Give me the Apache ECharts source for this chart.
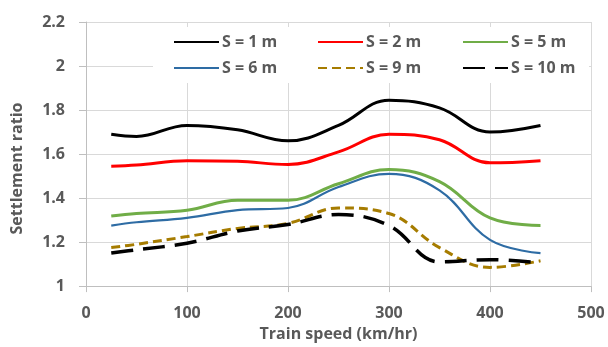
<!DOCTYPE html>
<html>
<head>
<meta charset="utf-8">
<script src="https://cdn.jsdelivr.net/npm/echarts@6/dist/echarts.min.js"></script>
<style>
  html, body { margin: 0; padding: 0; background: #fff; }
  #chart { width: 608px; height: 347px; }
</style>
</head>
<body>
<div id="chart"></div>
<script>
// Train speed (km/hr) at which settlement ratio was evaluated
const speeds = [25, 50, 100, 150, 200, 250, 300, 350, 400, 450];

// Settlement ratio for each spacing S
const s1  = [1.69, 1.68, 1.73, 1.71, 1.66, 1.73, 1.845, 1.81, 1.70, 1.73];
const s2  = [1.545, 1.55, 1.57, 1.567, 1.553, 1.61, 1.69, 1.665, 1.56, 1.57];
const s5  = [1.318, 1.33, 1.345, 1.39, 1.39, 1.465, 1.53, 1.475, 1.31, 1.275];
const s6  = [1.275, 1.29, 1.31, 1.345, 1.355, 1.45, 1.51, 1.435, 1.21, 1.15];
const s9  = [1.175, 1.19, 1.225, 1.262, 1.285, 1.355, 1.33, 1.175, 1.085, 1.115];
const s10 = [1.15, 1.165, 1.195, 1.25, 1.28, 1.325, 1.275, 1.11, 1.12, 1.105];

const seriesNames = ['S = 1 m', 'S = 2 m', 'S = 5 m', 'S = 6 m', 'S = 9 m', 'S = 10 m'];

const xTicks = { min: 0, max: 500, step: 100 };
const yTicks = { min: 1, max: 2.2, step: 0.2 };

const textGrey = '#595959';
const fontFamily = '"Open Sans", Lato, sans-serif';
const boldText = { color: textGrey, fontWeight: 'bold', fontSize: 16, fontFamily: fontFamily };

function pairs(values) {
  return speeds.map((s, i) => [s, values[i]]);
}

function lineSeries(name, values, color, width, dash) {
  return {
    name: name,
    type: 'line',
    data: pairs(values),
    smooth: 0.4,
    symbol: 'none',
    z: 3,
    lineStyle: { color: color, width: width, type: dash || 'solid', cap: 'butt' },
    itemStyle: { color: color }
  };
}

// one legend column holds two stacked entries
function legendColumn(left, names) {
  return {
    orient: 'vertical',
    left: left,
    top: 29,
    data: names,
    itemWidth: 45,
    itemHeight: 14,
    itemGap: 10,
    itemStyle: { opacity: 0 },
    textStyle: Object.assign({ padding: [0, 0, 0, -2] }, boldText),
    selectedMode: false
  };
}

const chart = echarts.init(document.getElementById('chart'), null, { renderer: 'canvas' });

chart.setOption({
  animation: false,
  backgroundColor: '#fff',
  grid: { left: 86, right: 17, top: 22, bottom: 60, containLabel: false },
  graphic: [{
    type: 'rect',
    z: 1,
    shape: { x: 153, y: 27, width: 436, height: 56 },
    style: { fill: '#fff' }
  }],
  legend: [
    legendColumn(168, [seriesNames[0], seriesNames[3]]),
    legendColumn(312, [seriesNames[1], seriesNames[4]]),
    legendColumn(457, [seriesNames[2], seriesNames[5]])
  ],
  xAxis: {
    type: 'value',
    min: xTicks.min,
    max: xTicks.max,
    interval: xTicks.step,
    name: 'Train speed (km/hr)',
    nameLocation: 'middle',
    nameGap: 38,
    nameTextStyle: boldText,
    axisLine: { show: true, lineStyle: { color: '#bfbfbf', width: 1 } },
    axisTick: { show: true, length: 6, lineStyle: { color: '#bfbfbf' } },
    axisLabel: Object.assign({ margin: 19 }, boldText),
    splitLine: { show: true, lineStyle: { color: '#d9d9d9', width: 1 } }
  },
  yAxis: {
    type: 'value',
    min: yTicks.min,
    max: yTicks.max,
    interval: yTicks.step,
    name: 'Settlement ratio',
    nameLocation: 'middle',
    nameGap: 61,
    nameTextStyle: Object.assign({ padding: [0, 29, 0, 0] }, boldText),
    axisLine: { show: true, lineStyle: { color: '#bfbfbf', width: 1 } },
    axisTick: { show: true, length: 7, lineStyle: { color: '#bfbfbf' } },
    axisLabel: Object.assign({
      margin: 21,
      formatter: v => String(Math.round(v * 10) / 10)
    }, boldText),
    splitLine: { show: true, lineStyle: { color: '#d9d9d9', width: 1 } }
  },
  series: [
    lineSeries(seriesNames[0], s1, '#000000', 3),
    lineSeries(seriesNames[1], s2, '#ff0000', 3),
    lineSeries(seriesNames[2], s5, '#70ad47', 3),
    lineSeries(seriesNames[3], s6, '#2e6ca4', 2.2),
    lineSeries(seriesNames[4], s9, '#a67c00', 3, [9, 5]),
    lineSeries(seriesNames[5], s10, '#000000', 3.5, [22, 10])
  ]
});
</script>
</body>
</html>
